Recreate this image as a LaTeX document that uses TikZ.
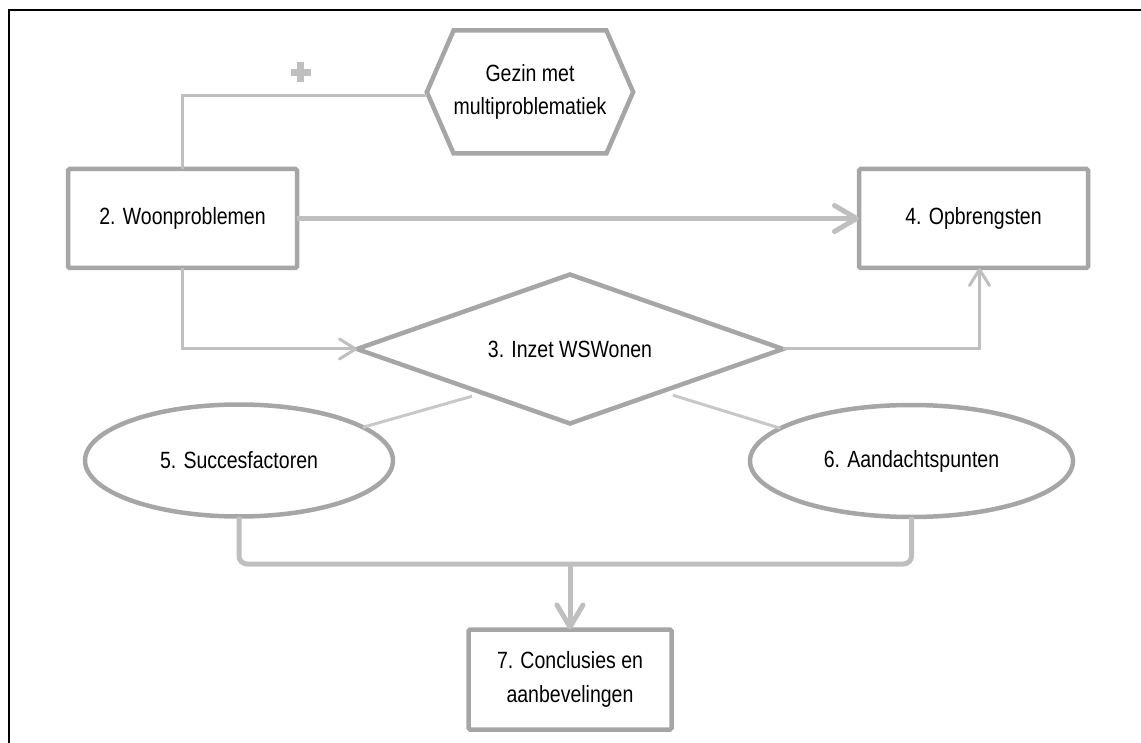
\documentclass[tikz,border=0pt]{standalone}
\usepackage{fontspec}
\setmainfont{Liberation Sans}[FakeStretch=0.83]
\usetikzlibrary{positioning}
\usetikzlibrary{arrows.meta}
\usetikzlibrary{shapes.geometric}
\usetikzlibrary{shapes.symbols}

\definecolor{rim}{HTML}{A6A6A6}
\definecolor{wire}{HTML}{BFBFBF}
\definecolor{tieline}{HTML}{C8C8C8}

\newcommand{\blokplus}{\rlap{\rule[6.5pt]{20pt}{7pt}}\hspace{6.5pt}\rule{7pt}{20pt}\hspace{6.5pt}}

\tikzset{
    shape base/.style={draw=rim, line width=4.5pt, fill=white, align=center,
        outer sep=0pt, inner sep=0pt, font=\fontsize{23.5}{33.5}\selectfont},
    box/.style={shape base, rectangle, rounded corners=1.5pt,
        minimum width=229pt, minimum height=99pt},
    hexa/.style={shape base, signal, signal to=west and east,
        signal pointer angle=133, minimum width=204pt, minimum height=123pt},
    ruit/.style={shape base, diamond, aspect=2.86,
        minimum width=426pt, minimum height=149pt},
    ovaal/.style={shape base, ellipse, minimum width=308pt, minimum height=112pt},
    link/.style={draw=wire, line width=3pt},
    linkarrow/.style={link, -{Straight Barb[length=16pt,width=20pt,round]}},
    feed/.style={draw=wire, line width=5pt, rounded corners=8pt},
    feedarrow/.style={draw=wire, line width=5pt,
        -{Straight Barb[length=22pt,width=26pt,round]}},
    tie/.style={draw=tieline, line width=3pt},
    frame/.style={draw=black, line width=2.5pt},
}

\begin{document}
\begin{tikzpicture}[x=1pt, y=-1pt]
    \useasboundingbox (0,0) rectangle (1141,743);
    \draw[frame] (1141,10) -- (9,10) -- (9,743);

    \node(woon) [box] at (182.5,218.5) {2. Woonproblemen};
    \node(opbr) [box, right=562pt of woon] {4. Opbrengsten};
    \node(gezin) [hexa] at (530,92) {Gezin met\\multiproblematiek};
    \node(inzet) [ruit] at (570,349) {3. Inzet WSWonen};
    \node(succes) [ovaal] at (239,460.5) {5. Succesfactoren};
    \node(aandacht) [ovaal, minimum width=323pt] at (911.5,461) {6. Aandachtspunten};
    \node(concl) [box, minimum width=203pt, minimum height=100pt,
        below=206pt of inzet] {7. Conclusies en\\aanbevelingen};
    \coordinate(samen) at (concl.north |- 0,564);

    \draw[link] (woon.north) |- node[pos=0.735, above=12pt, inner sep=0pt,
        text=wire] (plus) {\blokplus} ([yshift=-4pt]gezin.west);
    \draw[feedarrow] (woon.east) -- (opbr.west);
    \draw[linkarrow] (woon.south) |- (inzet.west);
    \draw[linkarrow] (inzet.east) -| ([xshift=6pt]opbr.south);

    \draw[tie] ([shift={(8.5,10)}]inzet.south west) -- (succes.15);
    \draw[tie] ([shift={(-3.5,9)}]inzet.south east) -- (aandacht.166);

    \draw[feed] (succes.south) |- (samen) -| (aandacht.south);
    \draw[feedarrow] (samen) -- (concl.north);
\end{tikzpicture}
\end{document}
